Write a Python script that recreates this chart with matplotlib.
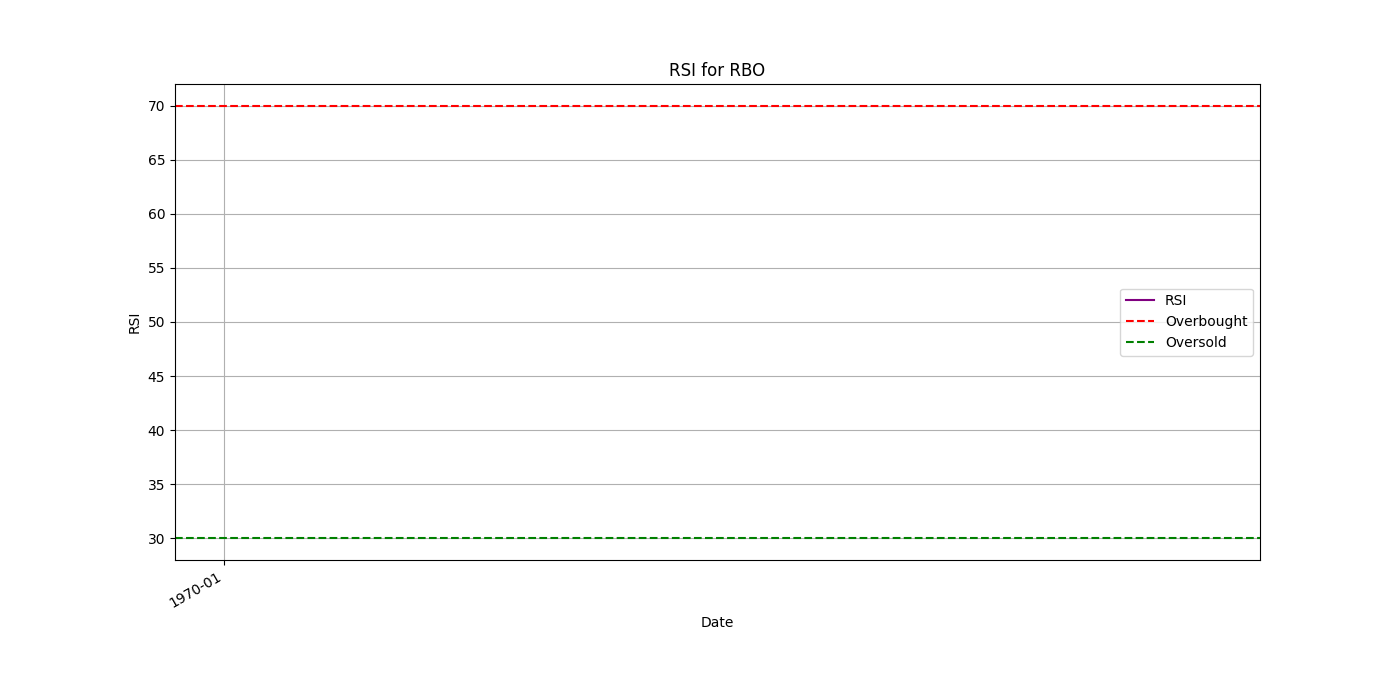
import pandas as pd
import matplotlib
matplotlib.use('Agg')
import matplotlib.pyplot as plt
import matplotlib.dates as mdates

# Datos (la serie RSI está vacía en el gráfico original)
fechas = pd.to_datetime([])
rsi = []
nivel_sobrecompra = 70
nivel_sobreventa = 30
ticker = 'RBO'

fig, ax = plt.subplots(figsize=(14, 7))
ax.plot(fechas, rsi, label='RSI', color='purple')
ax.axhline(nivel_sobrecompra, linestyle='--', color='red', label='Overbought')
ax.axhline(nivel_sobreventa, linestyle='--', color='green', label='Oversold')
ax.xaxis_date()
ax.xaxis.set_major_locator(mdates.MonthLocator())
ax.xaxis.set_major_formatter(mdates.DateFormatter('%Y-%m'))
ax.set_title(f'RSI for {ticker}')
ax.set_xlabel('Date')
ax.set_ylabel('RSI')
ax.legend(loc='center right')
ax.grid(True)
fig.autofmt_xdate()

plt.savefig('out.png', dpi=100)
